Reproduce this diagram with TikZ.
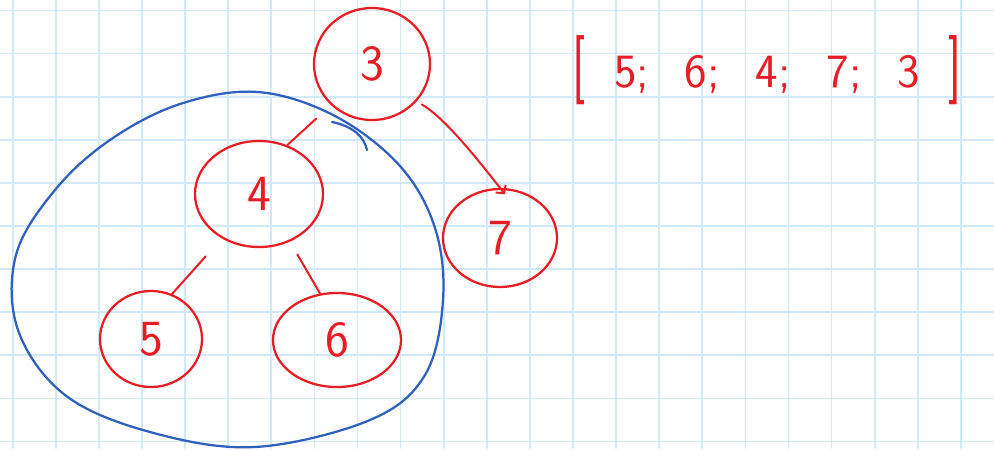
\documentclass[tikz,border=0pt]{standalone}
\usepackage{fontspec}
\usepackage{tikz}
\usetikzlibrary{arrows.meta, shapes.geometric}

\definecolor{inkred}{RGB}{232,28,36}
\definecolor{inkblue}{RGB}{48,96,190}
\definecolor{gridblue}{RGB}{208,234,250}

\begin{document}
\begin{tikzpicture}[
    x=0.025cm, y=-0.025cm,
    gridline/.style={gridblue, line width=1.2pt},
    vertex/.style={
        ellipse, draw=inkred, line width=1.6pt, inner sep=0pt,
        text=inkred, font=\sffamily\fontsize{36}{40}\selectfont
    },
    edge/.style={inkred, line width=1.4pt, line cap=round},
    arc/.style={edge, -{Straight Barb[length=4pt,width=9pt]}},
    hull/.style={inkblue, line width=1.6pt, line cap=round},
    order/.style={text=inkred, font=\sffamily\fontsize{34}{38}\selectfont},
]

% Paper
\useasboundingbox (0,0) rectangle (994,449);
\fill[white] (0,0) rectangle (994,449);
\foreach \k in {0,...,22}
    \draw[gridline] ({12.7+43.1*\k},0) -- ({12.7+43.1*\k},449);
\foreach \k in {0,...,10}
    \draw[gridline] (0,{10.5+43.1*\k}) -- (994,{10.5+43.1*\k});

% Subtree of 4
\draw[hull] plot[smooth cycle, tension=0.6] coordinates {
    (180,104) (258,92) (335,116) (400,166) (435,228) (443,300)
    (425,375) (370,420) (255,447) (150,432) (65,395) (18,330)
    (16,255) (55,190) (110,140)};
\draw[hull] (332,122) .. controls (352,126) and (364,136) .. (367,150);

% Nodes
\node[vertex, minimum width=2.9cm, minimum height=2.8cm] (n3) at (372,64) {3};
\node[vertex, minimum width=3.2cm, minimum height=2.65cm] (n4) at (259,194) {4};
\node[vertex, minimum width=2.85cm, minimum height=2.45cm] (n7) at (500,238) {7};
\node[vertex, minimum width=2.55cm, minimum height=2.4cm] (n5) at (151,339) {5};
\node[vertex, minimum width=3.2cm, minimum height=2.35cm] (n6) at (337,340) {6};

% Edges
\draw[edge, shorten <=0.5cm] (n3.225) -- (n4.60);
\draw[arc, shorten <=0.15cm, shorten >=-0.2cm] (n3.-40) to[out=-30, in=128, looseness=0.7] (n7.north);
\draw[edge, shorten <=0.6cm] (n4.-130) -- (n5.65);
\draw[edge, shorten <=0.37cm] (n4.-57) -- (n6.110);

% Postorder
\node[order, anchor=base] (list) at (767,87)
    {\scalebox{1}[1.45]{[}\hspace{0.6em}5;\hspace{0.75em}6;\hspace{0.75em}4;\hspace{0.75em}7;\hspace{0.75em}3\hspace{0.6em}\scalebox{1}[1.45]{]}};

\end{tikzpicture}
\end{document}
